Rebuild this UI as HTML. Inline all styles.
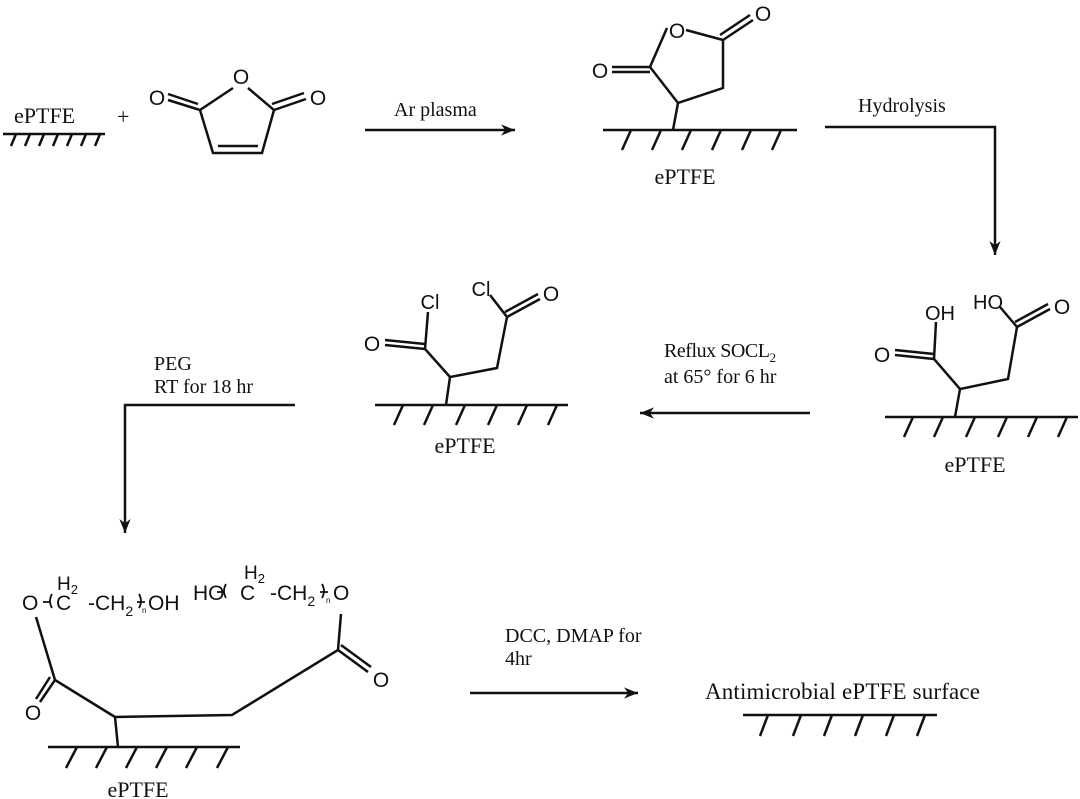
<!DOCTYPE html>
<html><head><meta charset="utf-8"><style>
html,body{margin:0;padding:0;background:#fff;}
svg{display:block;}
.s{font-family:"Liberation Serif",serif;fill:#111;}
.a{font-family:"Liberation Sans",sans-serif;fill:#111;}
</style></head><body>
<svg width="1080" height="799" viewBox="0 0 1080 799" xmlns="http://www.w3.org/2000/svg">
<defs>
<marker id="ahb" viewBox="0 0 10 10" refX="10" refY="5" markerWidth="24" markerHeight="14" markerUnits="userSpaceOnUse" orient="auto">
<path d="M0,1 L10,5 L0,9 L3,5 z" fill="#111"/></marker>
</defs>
<g stroke="#111" stroke-width="2.5" fill="none" stroke-linecap="butt">
<line x1="3" y1="134" x2="105" y2="134"/>
<path d="M16,134 l-5,12 M30,134 l-5,12 M44,134 l-5,12 M58,134 l-5,12 M72,134 l-5,12 M86,134 l-5,12 M100,134 l-5,12"/>
<path d="M233,88 L200,110 L213,153 L262,153 L274,110 L248,88"/>
<line x1="218" y1="146" x2="258" y2="146"/>
<line x1="200" y1="110" x2="168" y2="100"/><line x1="198" y1="104" x2="168" y2="94"/>
<line x1="274" y1="110" x2="306" y2="99"/><line x1="272" y1="104" x2="304" y2="93"/>
<line x1="365" y1="130" x2="515" y2="130" marker-end="url(#ahb)"/>
<line x1="603" y1="130" x2="797" y2="130"/>
<path d="M631,130 l-9,20 M661,130 l-9,20 M691,130 l-9,20 M721,130 l-9,20 M751,130 l-9,20 M781,130 l-9,20"/>
<path d="M673,130 L678,103 L723,88 L723,40 L686,30 M667,28 L650,67 L678,103"/>
<line x1="650" y1="67" x2="612" y2="67"/><line x1="650" y1="72" x2="612" y2="72"/>
<line x1="723" y1="40" x2="753" y2="20"/><line x1="720" y1="35" x2="750" y2="15"/>
<polyline points="825,127 995,127 995,255" marker-end="url(#ahb)"/>
<line x1="885" y1="417" x2="1078" y2="417"/>
<path d="M913,417 l-9,20 M943,417 l-9,20 M975,417 l-9,20 M1007,417 l-9,20 M1037,417 l-9,20 M1067,417 l-9,20"/>
<path d="M955,417 L960,389 L1008,379 L1017,327 L1000,307 M960,389 L934,359 L936,322"/>
<line x1="934" y1="359" x2="895" y2="355"/><line x1="934" y1="354" x2="895" y2="350"/>
<line x1="1017" y1="327" x2="1050" y2="309"/><line x1="1015" y1="322" x2="1048" y2="304"/>
<line x1="810" y1="413" x2="640" y2="413" marker-end="url(#ahb)"/>
<line x1="375" y1="405" x2="568" y2="405"/>
<path d="M403,405 l-9,20 M433,405 l-9,20 M465,405 l-9,20 M497,405 l-9,20 M527,405 l-9,20 M557,405 l-9,20"/>
<path d="M446,405 L450,377 L497,368 L507,317 L490,295 M450,377 L425,349 L428,312"/>
<line x1="425" y1="349" x2="385" y2="345"/><line x1="425" y1="344" x2="385" y2="340"/>
<line x1="507" y1="317" x2="540" y2="299"/><line x1="505" y1="312" x2="538" y2="294"/>
<polyline points="295,405 125,405 125,533" marker-end="url(#ahb)"/>
<line x1="48" y1="747" x2="240" y2="747"/>
<path d="M77,747 l-11,21 M107,747 l-11,21 M137,747 l-11,21 M167,747 l-11,21 M197,747 l-11,21 M228,747 l-11,21"/>
<path d="M118,747 L115,717 L232,715 L338,650 L341,614 M115,717 L55,680 L36,617"/>
<line x1="55" y1="680" x2="40" y2="702"/><line x1="50" y1="677" x2="36" y2="699"/>
<line x1="338" y1="650" x2="368" y2="672"/><line x1="341" y1="645" x2="371" y2="667"/>
<line x1="470" y1="693" x2="638" y2="693" marker-end="url(#ahb)"/>
<line x1="743" y1="715" x2="937" y2="715"/>
<path d="M768,715 l-8,21 M801,715 l-8,21 M832,715 l-8,21 M863,715 l-8,21 M894,715 l-8,21 M925,715 l-8,21"/>
<path d="M43,602 l7,0 M52,594 q-4,7 0,14 M139,594 q4,7 0,14 M137,602 l8,0 M217,592 l7,0 M226,584 q-4,7 0,14 M322,584 q4,7 0,14 M320,592 l8,0" stroke-width="1.8"/>
</g>
<text class="s" x="14" y="123" font-size="22">ePTFE</text>
<text class="s" x="117" y="124" font-size="22">+</text>
<text class="a" x="241" y="84" font-size="21" text-anchor="middle">O</text>
<text class="a" x="157" y="105" font-size="21" text-anchor="middle">O</text>
<text class="a" x="318" y="105" font-size="21" text-anchor="middle">O</text>
<text class="s" x="394" y="116" font-size="20">Ar plasma</text>
<text class="a" x="677" y="38" font-size="21" text-anchor="middle">O</text>
<text class="a" x="600" y="78" font-size="21" text-anchor="middle">O</text>
<text class="a" x="763" y="21" font-size="21" text-anchor="middle">O</text>
<text class="s" x="685" y="184" font-size="22" text-anchor="middle">ePTFE</text>
<text class="s" x="858" y="112" font-size="20">Hydrolysis</text>
<text class="a" x="940" y="320" font-size="20" text-anchor="middle">OH</text>
<text class="a" x="988" y="309" font-size="20" text-anchor="middle">HO</text>
<text class="a" x="882" y="362" font-size="21" text-anchor="middle">O</text>
<text class="a" x="1062" y="314" font-size="21" text-anchor="middle">O</text>
<text class="s" x="975" y="472" font-size="22" text-anchor="middle">ePTFE</text>
<text class="s" x="664" y="357" font-size="20" textLength="112">Reflux SOCL<tspan font-size="13" dy="5">2</tspan></text>
<text class="s" x="664" y="383" font-size="20">at 65° for 6 hr</text>
<text class="a" x="430" y="309" font-size="20" text-anchor="middle">Cl</text>
<text class="a" x="481" y="296" font-size="20" text-anchor="middle">Cl</text>
<text class="a" x="372" y="351" font-size="21" text-anchor="middle">O</text>
<text class="a" x="551" y="301" font-size="21" text-anchor="middle">O</text>
<text class="s" x="465" y="453" font-size="22" text-anchor="middle">ePTFE</text>
<text class="s" x="154" y="370" font-size="20">PEG</text>
<text class="s" x="154" y="393" font-size="20">RT  for 18 hr</text>
<text class="a" font-size="21" x="22" y="610">O</text>
<text class="a" font-size="21" x="56" y="610">C</text>
<text class="a" font-size="19" x="57" y="590">H<tspan font-size="13" dy="4">2</tspan></text>
<text class="a" font-size="21" x="88" y="610">-CH<tspan font-size="14" dy="6">2</tspan></text>
<text class="a" font-size="8" x="142" y="613">n</text>
<text class="a" font-size="21" x="148" y="610">OH</text>
<text class="a" font-size="21" x="193" y="600">HO</text>
<text class="a" font-size="21" x="240" y="600">C</text>
<text class="a" font-size="19" x="244" y="579">H<tspan font-size="13" dy="4">2</tspan></text>
<text class="a" font-size="21" x="270" y="600">-CH<tspan font-size="14" dy="6">2</tspan></text>
<text class="a" font-size="8" x="326" y="603">n</text>
<text class="a" font-size="21" x="333" y="600">O</text>
<text class="a" x="33" y="720" font-size="21" text-anchor="middle">O</text>
<text class="a" x="381" y="687" font-size="21" text-anchor="middle">O</text>
<text class="s" x="138" y="797" font-size="22" text-anchor="middle">ePTFE</text>
<text class="s" x="505" y="642" font-size="20">DCC, DMAP for</text>
<text class="s" x="505" y="665" font-size="20">4hr</text>
<text class="s" x="705" y="699" font-size="23" textLength="275">Antimicrobial ePTFE surface</text>
</svg>
</body></html>
